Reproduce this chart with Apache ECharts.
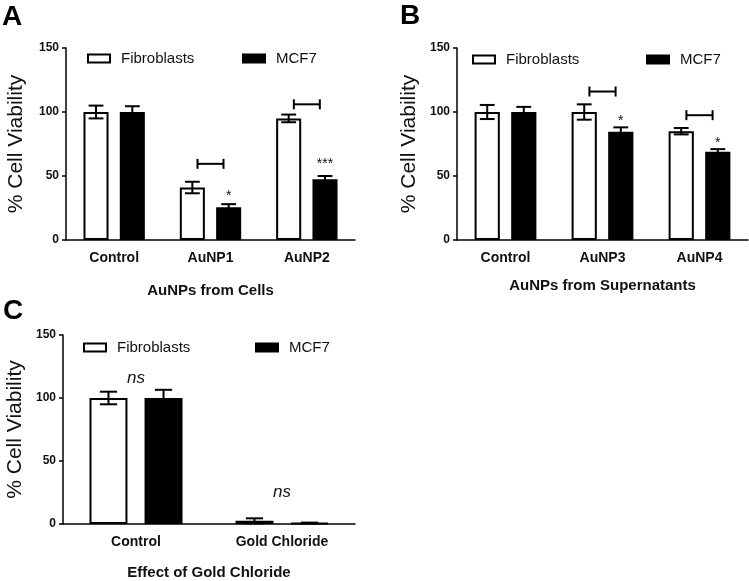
<!DOCTYPE html>
<html><head><meta charset="utf-8">
<script src="https://cdn.jsdelivr.net/npm/echarts@6/dist/echarts.min.js"></script>
<style>html,body{margin:0;padding:0;background:#fff}#c{width:749px;height:581px}</style>
</head><body><div id="c"></div><script>
// ---- data ----
const yTicks = [0, 50, 100, 150];
const catsA = ['Control', 'AuNP1', 'AuNP2'];
const fibA = [100, 41, 95];
const fibErrA = [5, 4.5, 3];
const mcfA = [100, 25.5, 47.5];
const mcfErrA = [4.5, 2.5, 2.5];
const bracketsA = [[1, 59.5], [2, 106]];
const starsA = [[1, 37], [2, 62]];
const starTextA = ['*', '***'];

const catsB = ['Control', 'AuNP3', 'AuNP4'];
const fibB = [100, 100, 85];
const fibErrB = [5.5, 6, 2.5];
const mcfB = [100, 84.5, 69];
const mcfErrB = [4, 3.5, 2];
const bracketsB = [[1, 116], [2, 97.5]];
const starsB = [[1, 96], [2, 79]];
const starTextB = ['*', '*'];

const catsC = ['Control', 'Gold Chloride'];
const fibC = [100, 2.5];
const fibErrC = [5, 2];
const mcfC = [100, 0.8];
const mcfErrC = [6.5, 0.3];
const nsC = [[0, 116], [1, 25]];
const nsTextC = ['ns', 'ns'];

// ---- helpers ----
const FONT = 'Liberation Sans, Arial, sans-serif';
const TXT = '#111';
const SIDE = 0.1885; // bar centre offset as fraction of band

function errRender(sign) {
  return function (params, api) {
    const cat = api.value(0), v = api.value(1), e = api.value(2);
    const band = api.size([1, 0])[0];
    const x = api.coord([cat, v])[0] + sign * SIDE * band;
    const yT = api.coord([cat, v + e])[1];
    const yB = api.coord([cat, Math.max(v - e, 0)])[1];
    const cw = 10 + 0.05 * band;
    const st = { stroke: '#000', lineWidth: 2 };
    return { type: 'group', children: [
      { type: 'line', shape: { x1: x, y1: yT, x2: x, y2: yB }, style: st },
      { type: 'line', shape: { x1: x - cw / 2, y1: yT, x2: x + cw / 2, y2: yT }, style: st },
      { type: 'line', shape: { x1: x - cw / 2, y1: yB, x2: x + cw / 2, y2: yB }, style: st }
    ]};
  };
}
function bracketRender(params, api) {
  const cat = api.value(0), v = api.value(1);
  const band = api.size([1, 0])[0];
  const p = api.coord([cat, v]);
  const h = 0.135 * band;
  const st = { stroke: '#000', lineWidth: 2 };
  return { type: 'group', children: [
    { type: 'line', shape: { x1: p[0] - h, y1: p[1], x2: p[0] + h, y2: p[1] }, style: st },
    { type: 'line', shape: { x1: p[0] - h, y1: p[1] - 5, x2: p[0] - h, y2: p[1] + 5 }, style: st },
    { type: 'line', shape: { x1: p[0] + h, y1: p[1] - 5, x2: p[0] + h, y2: p[1] + 5 }, style: st }
  ]};
}
function textRender(texts, sign, fontSize, italic, dy) {
  return function (params, api) {
    const cat = api.value(0), v = api.value(1);
    const band = api.size([1, 0])[0];
    const p = api.coord([cat, v]);
    return { type: 'text', x: p[0] + sign * SIDE * band, y: p[1] + dy,
      style: { text: texts[params.dataIndex], fontSize: fontSize, fontFamily: FONT,
        fontStyle: italic ? 'italic' : 'normal', align: 'center', verticalAlign: 'middle', fill: TXT } };
  };
}
function errData(vals, errs) { return vals.map((v, i) => [i, v, errs[i]]); }

function xAxis(grid, cats, name, gap) {
  return { type: 'category', gridIndex: grid, data: cats,
    axisLine: { lineStyle: { color: '#000', width: 1.5 } },
    axisTick: { alignWithLabel: true, length: 5, lineStyle: { color: '#000', width: 1.5 } },
    axisLabel: { fontSize: 14, fontWeight: 'bold', color: TXT, fontFamily: FONT, margin: 11 },
    name: name, nameLocation: 'middle', nameGap: gap,
    nameTextStyle: { fontSize: 15, fontWeight: 'bold', color: TXT, fontFamily: FONT } };
}
function yAxis(grid, gap) {
  return { type: 'value', gridIndex: grid, min: yTicks[0], max: yTicks[yTicks.length - 1], interval: 50,
    splitLine: { show: false },
    axisLine: { show: true, lineStyle: { color: '#000', width: 1.5 } },
    axisTick: { show: true, length: 4, lineStyle: { color: '#000', width: 1.5 } },
    axisLabel: { fontSize: 12, fontWeight: 'bold', color: TXT, fontFamily: FONT, margin: 7 },
    name: '% Cell Viability', nameLocation: 'middle', nameGap: gap,
    nameTextStyle: { fontSize: 21, color: TXT, fontFamily: FONT } };
}
const fibStyle = { color: '#fff', borderColor: '#000', borderWidth: 2 };
const mcfStyle = { color: '#000', borderColor: '#000', borderWidth: 2 };
function bars(grid, fib, mcf) {
  return [
    { type: 'bar', name: 'Fibroblasts', xAxisIndex: grid, yAxisIndex: grid, data: fib,
      barWidth: '26%', barGap: '45%', itemStyle: fibStyle, silent: true },
    { type: 'bar', name: 'MCF7', xAxisIndex: grid, yAxisIndex: grid, data: mcf,
      barWidth: '26%', barGap: '45%', itemStyle: mcfStyle, silent: true }
  ];
}
function custom(grid, render, data) {
  return { type: 'custom', xAxisIndex: grid, yAxisIndex: grid, renderItem: render,
    data: data, encode: { x: 0, y: 1 }, z: 5, silent: true };
}
function legend(name, left, top) {
  return { data: [name], left: left, top: top, padding: 0, itemWidth: 22, itemHeight: 8,
    icon: 'rect', selectedMode: false,
    textStyle: { fontSize: 15, color: TXT, fontFamily: FONT, padding: [0, 0, 0, 6] } };
}

const option = {
  animation: false,
  backgroundColor: '#fff',
  grid: [
    { left: 66, top: 48, width: 289, height: 192 },
    { left: 457, top: 48, width: 291, height: 192 },
    { left: 63, top: 335, width: 292, height: 192 }
  ],
  xAxis: [
    xAxis(0, catsA, 'AuNPs from Cells', 43),
    xAxis(1, catsB, 'AuNPs from Supernatants', 38),
    xAxis(2, catsC, 'Effect of Gold Chloride', 41)
  ],
  yAxis: [yAxis(0, 39), yAxis(1, 37), yAxis(2, 37)],
  legend: [
    legend('Fibroblasts', 87, 51), legend('MCF7', 242, 51),
    legend('Fibroblasts', 472, 52), legend('MCF7', 646, 52),
    legend('Fibroblasts', 83, 340), legend('MCF7', 255, 340)
  ],
  graphic: [
    { type: 'text', left: 2, top: 3, style: { text: 'A', fontSize: 28, fontWeight: 'bold', fill: '#000', fontFamily: FONT } },
    { type: 'text', left: 400, top: 2, style: { text: 'B', fontSize: 28, fontWeight: 'bold', fill: '#000', fontFamily: FONT } },
    { type: 'text', left: 3, top: 297, style: { text: 'C', fontSize: 28, fontWeight: 'bold', fill: '#000', fontFamily: FONT } }
  ],
  series: [
    ...bars(0, fibA, mcfA),
    ...bars(1, fibB, mcfB),
    ...bars(2, fibC, mcfC),
    custom(0, errRender(-1), errData(fibA, fibErrA)),
    custom(0, errRender(1), errData(mcfA, mcfErrA)),
    custom(1, errRender(-1), errData(fibB, fibErrB)),
    custom(1, errRender(1), errData(mcfB, mcfErrB)),
    custom(2, errRender(-1), errData(fibC, fibErrC)),
    custom(2, errRender(1), errData(mcfC, mcfErrC)),
    custom(0, bracketRender, bracketsA),
    custom(1, bracketRender, bracketsB),
    custom(0, textRender(starTextA, 1, 14, false, 4), starsA),
    custom(1, textRender(starTextB, 1, 14, false, 4), starsB),
    custom(2, textRender(nsTextC, 0, 17, true, 0), nsC)
  ]
};
const chart = echarts.init(document.getElementById('c'), null, { renderer: 'canvas' });
chart.setOption(option);
</script></body></html>
